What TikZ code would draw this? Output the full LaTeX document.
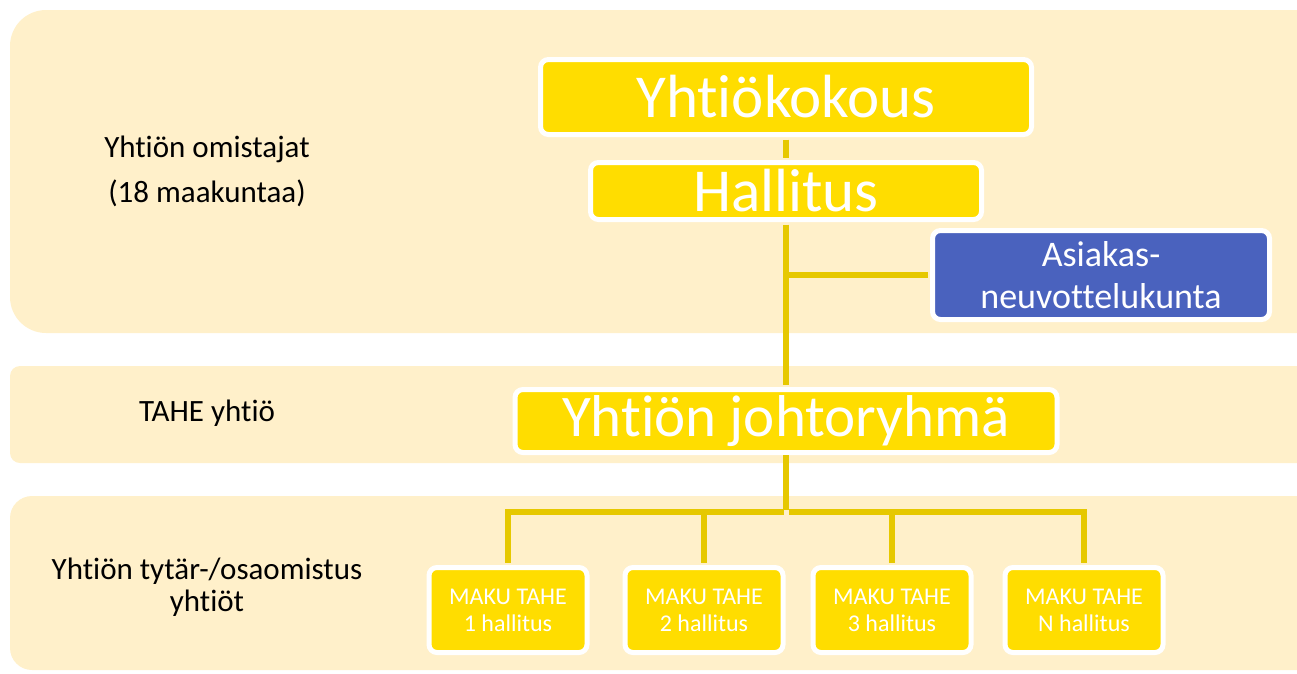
\documentclass[tikz,border=0pt]{standalone}
\usepackage{fontspec}
\setmainfont{Carlito}[RawFeature={-liga;-clig;-calt;-dlig}]
\usepackage{tikz}
\newcommand{\boxBorder}[0]{5pt}
\newcommand{\linkWidth}[0]{6pt}
\definecolor{bandfill}{HTML}{FFF0CA}
\definecolor{boxyellow}{HTML}{FFDD00}
\definecolor{linkyellow}{HTML}{E6C800}
\definecolor{boxblue}{HTML}{4A62BE}

\begin{document}
\begin{tikzpicture}[x=1pt, y=-1pt]
  \tikzset{
    orgbox/.style={draw=white, line width=\boxBorder, fill=boxyellow, text=white,
      rounded corners=8pt, inner sep=0pt, align=center},
    makubox/.style={orgbox, minimum width=158pt, minimum height=85pt,
      font=\fontsize{24}{27}\selectfont},
    link/.style={draw=linkyellow, line width=\linkWidth, shorten >=2.5pt, shorten <=2.5pt},
    sidelabel/.style={align=center}
  }
  \useasboundingbox (0,0) rectangle (1297,673);
  % bands
  \fill[bandfill, rounded corners=36pt] (10,10) rectangle (1340,333);
  \fill[bandfill, rounded corners=10pt] (10,366) rectangle (1340,463);
  \fill[bandfill, rounded corners=22pt] (10,496) rectangle (1340,670);
  % left labels
  \node[sidelabel, font=\fontsize{31}{45}\selectfont] (owners) at (207,171) {Yhtiön omistajat\\(18 maakuntaa)};
  \node[sidelabel, font=\fontsize{31}{37}\selectfont] (tahe) at (207,413) {TAHE yhtiö};
  \node[sidelabel, font=\fontsize{31}{32}\selectfont] (subs) at (207,587) {Yhtiön tytär-/osaomistus\\yhtiöt};
  % boxes
  \node[orgbox, minimum width=491pt, minimum height=75pt, font=\fontsize{61}{61}\selectfont] (kokous) at (786,97) {Yhtiökokous};
  \node[orgbox, minimum width=391pt, minimum height=57pt, font=\fontsize{61}{61}\selectfont] (hallitus) at (786,191) {Hallitus};
  \node[orgbox, fill=boxblue, minimum width=337pt, minimum height=89pt, font=\fontsize{36}{42}\selectfont] (asiakas) at (1101,275) {Asiakas-\\neuvottelukunta};
  \node[orgbox, minimum width=542pt, minimum height=63pt, font=\fontsize{59}{59}\selectfont] (johto) at (786,421) {Yhtiön johtoryhmä};
  \node[makubox] (maku1) at (508,610) {MAKU TAHE\\1 hallitus};
  \node[makubox] (maku2) at (704,610) {MAKU TAHE\\2 hallitus};
  \node[makubox] (maku3) at (892,610) {MAKU TAHE\\3 hallitus};
  \node[makubox] (makuN) at (1084,610) {MAKU TAHE\\N hallitus};
  \coordinate (bus) at (786,512);
  % links
  \draw[link] (kokous.south) -- (hallitus.north);
  \draw[link] (hallitus.south) -- (johto.north);
  \draw[link, shorten <=0pt] (hallitus.south |- asiakas.west) -- (asiakas.west);
  \draw[link, shorten <=0pt] (johto.south) -- (bus);
  \foreach \n in {maku1,maku2,maku3,makuN}
    \draw[link] (bus) -| (\n.north);
\end{tikzpicture}
\end{document}
